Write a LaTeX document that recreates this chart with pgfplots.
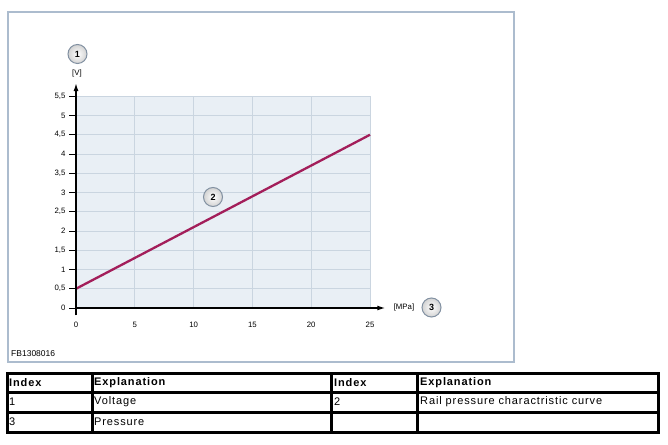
\documentclass[border=0pt]{standalone}
\usepackage{pgfplots}
\pgfplotsset{compat=1.18}
\usetikzlibrary{arrows.meta}
\usepackage{fontspec}
\setmainfont{Liberation Sans}
\newfontfamily\tabfont[LetterSpace=8]{Liberation Sans}
\definecolor{framec}{RGB}{172,188,206}
\definecolor{bgc}{RGB}{233,239,245}
\definecolor{gridc}{RGB}{202,213,224}
\definecolor{curve}{RGB}{163,30,90}
\definecolor{circc}{RGB}{130,145,162}
\newcommand{\callout}[3]{%
  \shade[inner color=white, outer color=gray!35] (#1,#2) circle (9.5);
  \draw[circc, line width=1pt] (#1,#2) circle (9.5);
  \node[font=\fontsize{9}{10}\selectfont\bfseries] at (#1,#2) {#3};}
\begin{document}
\begin{tikzpicture}[x=1pt,y=1pt]
\useasboundingbox (0,0) rectangle (668,444);
\fill[white] (0,0) rectangle (668,444);
\draw[framec, line width=2pt] (8,82) rectangle (514,432);
\begin{axis}[
  at={(76pt,136pt)}, anchor=south west,
  scale only axis, width=294pt, height=211.75pt,
  xmin=0, xmax=25, ymin=0, ymax=5.5,
  axis lines=left, axis line style={draw=none},
  axis background/.style={fill=bgc},
  grid=major, major grid style={gridc, line width=0.7pt},
  xtick={0,5,10,15,20,25},
  ytick={0,0.5,1,1.5,2,2.5,3,3.5,4,4.5,5,5.5},
  tick align=outside, major tick length=7pt,
  ytick style={black, line width=0.8pt},
  xtick style={draw=none},
  xticklabel style={yshift=-4pt},
  ticklabel style={font=\fontsize{7.8}{9}\selectfont},
  /pgf/number format/.cd, use comma, assume math mode=true,
  /pgfplots/.cd, clip=false,
]
\addplot[curve, line width=2.3pt] coordinates {(0,0.5) (25,4.5)};
\draw[black, line width=1.3pt, -{Latex[length=8pt,width=5pt]}] (axis cs:0,-0.19) -- (axis cs:0,5.84);
\draw[black, line width=1.3pt, -{Latex[length=8pt,width=5pt]}] (axis cs:0,0) -- (axis cs:26.3,0);
\end{axis}
\callout{77.5}{390}{1}
\node[font=\fontsize{7.8}{9}\selectfont] at (77,371) {[V]};
\callout{213}{247}{2}
\callout{431.5}{136.5}{3}
\node[font=\fontsize{7.8}{9}\selectfont] at (404,137) {[MPa]};
\node[font=\fontsize{8.5}{10}\selectfont, anchor=west, inner sep=0] at (11,90) {FB1308016};
% table
\begin{scope}[line width=3pt, line cap=rect]
\draw (7,71) -- (658,71);
\draw (7,52) -- (658,52);
\draw (7,32) -- (658,32);
\draw (7,12) -- (658,12);
\draw (7,71) -- (7,12);
\draw (92,71) -- (92,12);
\draw (331,71) -- (331,12);
\draw (417,71) -- (417,12);
\draw (658,71) -- (658,12);
\end{scope}
\begin{scope}[every node/.style={anchor=west, inner sep=0, font=\tabfont\fontsize{11}{13}\selectfont}]
\node[font=\tabfont\fontsize{11}{13}\selectfont\bfseries] at (9,61.5) {Index};
\node[font=\tabfont\fontsize{11}{13}\selectfont\bfseries] at (94,61.5) {Explanation};
\node[font=\tabfont\fontsize{11}{13}\selectfont\bfseries] at (334,61.5) {Index};
\node[font=\tabfont\fontsize{11}{13}\selectfont\bfseries] at (420,61.5) {Explanation};
\node at (9,42) {1};
\node at (94,42) {Voltage};
\node at (334,42) {2};
\node at (420,42) {Rail pressure charactristic curve};
\node at (9,22) {3};
\node at (94,22) {Pressure};
\end{scope}
\end{tikzpicture}
\end{document}
